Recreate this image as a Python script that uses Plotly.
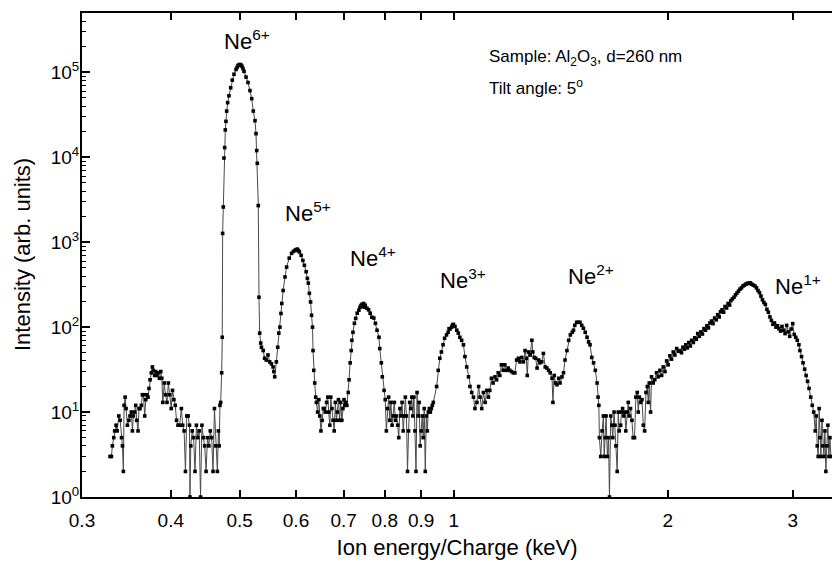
import math
import plotly.graph_objects as go

# ---------------- data ----------------
# low-energy bump and noise floor below Ne6+
low_E = [0.3285, 0.3300, 0.3310, 0.3325, 0.3335, 0.3350, 0.3362, 0.3380, 0.3395, 0.3410,
         0.3420, 0.3430, 0.3438, 0.3450, 0.3460, 0.3475, 0.3492, 0.3504, 0.3520, 0.3532,
         0.3543, 0.3558, 0.3570, 0.3582, 0.3597, 0.3608, 0.3620, 0.3636, 0.3648, 0.3660,
         0.3676, 0.3688, 0.3700, 0.3715, 0.3727, 0.3740, 0.3755, 0.3768, 0.3780, 0.3796,
         0.3809, 0.3821, 0.3838, 0.3855, 0.3872, 0.3885, 0.3898, 0.3915, 0.3933, 0.3951,
         0.3968, 0.3987, 0.4005, 0.4022, 0.4040, 0.4058, 0.4075, 0.4094, 0.4116, 0.4139,
         0.4157, 0.4176, 0.4194, 0.4212, 0.4231, 0.4249, 0.4256, 0.4267, 0.4287, 0.4306,
         0.4326, 0.4346, 0.4365, 0.4385, 0.4404, 0.4424, 0.4444, 0.4464, 0.4484, 0.4504,
         0.4524, 0.4545, 0.4565, 0.4586, 0.4607, 0.4627, 0.4651, 0.4667, 0.4679]
low_I = [3, 3, 4, 5, 6, 7, 6, 9, 8, 5,
         4, 2, 12, 15, 11, 7, 8, 9, 10, 6,
         9, 10, 12, 8, 6, 11, 11, 12, 16, 16,
         9, 14, 16, 15, 19, 24, 29, 34, 31, 27,
         30, 27, 29, 25, 30, 25, 13, 22, 16, 13,
         22, 16, 11, 18, 14, 12, 8, 7, 7, 11,
         7, 6, 2, 9, 9, 7, 1, 4, 6, 5,
         2, 7, 5, 6, 1, 7, 5, 4, 2, 5,
         4, 6, 5, 2, 11, 4, 2, 6, 4]

# Ne6+ peak
ne6_E = [0.4690, 0.4701, 0.4716, 0.4725, 0.4731, 0.4741, 0.4751, 0.4762, 0.4772, 0.4782,
         0.4793, 0.4809, 0.4829, 0.4856, 0.4881, 0.4908, 0.4940, 0.4956, 0.4972, 0.4988,
         0.5004, 0.5020, 0.5037, 0.5053, 0.5070, 0.5103, 0.5136, 0.5169, 0.5198, 0.5225,
         0.5254, 0.5271, 0.5283, 0.5293, 0.5310, 0.5322, 0.5334]
ne6_I = [12, 13, 29, 76, 1270, 2600, 9800, 13000, 21000, 26500,
         35000, 44000, 53000, 66000, 81000, 95000, 108000, 114000, 120000, 122500,
         124000, 122000, 118000, 111000, 103000, 88000, 76000, 61000, 49000, 35000,
         27000, 19000, 12000, 8500, 2700, 225, 85]

# valley + Ne5+ peak
ne5_E = [0.5352, 0.5365, 0.5395, 0.5420, 0.5450, 0.5480, 0.5510, 0.5540, 0.5570, 0.5585,
         0.5600, 0.5630, 0.5655, 0.5675, 0.5695, 0.5715, 0.5730, 0.5755, 0.5790, 0.5820,
         0.5870, 0.5915, 0.5950, 0.5980, 0.6000, 0.6025, 0.6045, 0.6065, 0.6100, 0.6135,
         0.6165, 0.6200, 0.6225, 0.6245, 0.6265, 0.6290, 0.6310, 0.6330, 0.6340, 0.6355,
         0.6375, 0.6395]
ne5_I = [65, 58, 53, 43, 41, 47, 39, 37, 34, 30,
         26, 39, 58, 85, 100, 145, 190, 270, 390, 510,
         650, 740, 780, 800, 815, 830, 800, 770, 700, 610,
         535, 450, 375, 330, 250, 198, 138, 100, 53, 31,
         22, 15]

# noise between Ne5+ and Ne4+
gap54_E = [0.6410, 0.6435, 0.6460, 0.6480, 0.6505, 0.6530, 0.6555, 0.6575, 0.6600, 0.6625,
           0.6650, 0.6670, 0.6695, 0.6715, 0.6740, 0.6765, 0.6790, 0.6815, 0.6840, 0.6860,
           0.6885, 0.6910, 0.6935, 0.6960, 0.6985, 0.7010, 0.7030, 0.7055, 0.7075]
gap54_I = [13, 10, 14, 9, 6, 8, 11, 11, 10, 13,
           15, 10, 7, 15, 11, 8, 6, 13, 8, 10,
           14, 8, 13, 8, 11, 14, 12, 13, 12]

# Ne4+ peak
ne4_E = [0.7107, 0.7125, 0.7150, 0.7175, 0.7190, 0.7215, 0.7250, 0.7280, 0.7315, 0.7355,
         0.7380, 0.7405, 0.7430, 0.7450, 0.7470, 0.7490, 0.7510, 0.7550, 0.7590, 0.7630,
         0.7670, 0.7720, 0.7760, 0.7800, 0.7850, 0.7870, 0.7910, 0.7935, 0.7980]
ne4_I = [17, 24, 38, 53, 70, 87, 111, 127, 146, 158,
         171, 180, 186, 175, 190, 172, 181, 167, 160, 146,
         131, 128, 111, 92, 76, 56, 38, 26, 18]

# noise between Ne4+ and Ne3+
gap43_E = [0.8010, 0.8040, 0.8070, 0.8100, 0.8130, 0.8160, 0.8190, 0.8220, 0.8250, 0.8280,
           0.8310, 0.8340, 0.8370, 0.8400, 0.8430, 0.8460, 0.8490, 0.8520, 0.8550, 0.8580,
           0.8610, 0.8640, 0.8670, 0.8700, 0.8730, 0.8760, 0.8790, 0.8820, 0.8850, 0.8880,
           0.8910, 0.8940, 0.8970, 0.9000, 0.9030, 0.9060, 0.9090, 0.9120, 0.9150, 0.9180,
           0.9210, 0.9240, 0.9270, 0.9300, 0.9330, 0.9360]
gap43_I = [14, 6, 11, 15, 8, 13, 7, 9, 13, 8,
           9, 7, 5, 11, 9, 13, 6, 9, 15, 9,
           2, 6, 13, 11, 15, 9, 15, 6, 2, 17,
           9, 13, 4, 6, 9, 5, 11, 2, 9, 6,
           10, 11, 10, 11, 12, 13]

# Ne3+ peak
ne3_E = [0.9462, 0.9510, 0.9560, 0.9610, 0.9660, 0.9710, 0.9770, 0.9820, 0.9850, 0.9880,
         0.9930, 0.9960, 0.9990, 1.0040, 1.0100, 1.0150, 1.0200, 1.0260, 1.0320, 1.0370,
         1.0430, 1.0490, 1.0540, 1.0600, 1.0660, 1.0712]
ne3_I = [20, 31, 43, 51, 62, 74, 81, 87, 96, 95,
         100, 106, 108, 102, 92, 85, 76, 70, 62, 45,
         34, 26, 20, 17, 15, 11]

# broad structure between Ne3+ and Ne2+, and the Ne2+ peak
ne2_E = [1.078, 1.084, 1.089, 1.095, 1.101, 1.107, 1.113, 1.119, 1.124, 1.130,
         1.136, 1.143, 1.149, 1.155, 1.161, 1.167, 1.174, 1.180, 1.187, 1.193,
         1.199, 1.206, 1.213, 1.219, 1.226, 1.233, 1.239, 1.246, 1.253, 1.260,
         1.265, 1.269, 1.274, 1.281, 1.288, 1.292, 1.298, 1.304, 1.310, 1.317,
         1.322, 1.330, 1.337, 1.345, 1.352, 1.360, 1.367, 1.375, 1.379, 1.385,
         1.390, 1.397, 1.405, 1.411, 1.420, 1.427, 1.434, 1.443, 1.451, 1.459,
         1.468, 1.474, 1.480, 1.489, 1.497, 1.505, 1.514, 1.522, 1.531, 1.540,
         1.548, 1.555, 1.564, 1.573, 1.582, 1.591, 1.596, 1.600]
ne2_I = [13, 20, 15, 11, 17, 13, 18, 15, 18, 25,
         22, 26, 24, 29, 27, 36, 31, 36, 31, 33,
         31, 30, 29, 29, 41, 43, 39, 44, 39, 53,
         43, 27, 51, 47, 70, 51, 44, 43, 33, 41,
         38, 39, 49, 34, 33, 31, 29, 25, 13, 27,
         22, 21, 25, 22, 26, 29, 41, 53, 70, 81,
         87, 92, 105, 114, 114, 114, 105, 97, 87, 76,
         67, 62, 44, 38, 31, 22, 15, 12]

# noise region around 1.6-2.0 keV
gap21_E = [1.603, 1.610, 1.617, 1.624, 1.628, 1.633, 1.638, 1.645, 1.651, 1.656,
           1.663, 1.669, 1.674, 1.681, 1.686, 1.691, 1.698, 1.704, 1.709, 1.717,
           1.722, 1.728, 1.735, 1.741, 1.746, 1.754, 1.760, 1.765, 1.773, 1.781,
           1.788, 1.796, 1.804, 1.812, 1.818, 1.824, 1.832, 1.840, 1.848, 1.856,
           1.864, 1.872, 1.878, 1.884, 1.892, 1.898, 1.908, 1.918, 1.929, 1.939]
gap21_I = [5, 3, 6, 9, 3, 5, 9, 3, 5, 1,
           9, 7, 5, 10, 7, 4, 2, 10, 6, 7,
           10, 11, 9, 10, 6, 10, 13, 9, 11, 8,
           5, 5, 15, 17, 10, 15, 13, 14, 7, 6,
           17, 20, 13, 22, 10, 26, 22, 24, 29, 26]

# broad Ne1+ peak
ne1_E = [1.950, 1.961, 1.971, 1.982, 1.993, 2.003, 2.014, 2.025, 2.036, 2.047,
         2.059, 2.070, 2.081, 2.091, 2.101, 2.111, 2.121, 2.131, 2.141, 2.152,
         2.162, 2.173, 2.183, 2.194, 2.204, 2.215, 2.227, 2.238, 2.249, 2.260,
         2.271, 2.282, 2.293, 2.305, 2.316, 2.328, 2.340, 2.351, 2.363, 2.373,
         2.385, 2.397, 2.408, 2.420, 2.432, 2.444, 2.454, 2.466, 2.479, 2.491,
         2.503, 2.515, 2.527, 2.540, 2.552, 2.564, 2.577, 2.590, 2.602, 2.614,
         2.627, 2.640, 2.653, 2.666, 2.679, 2.692, 2.705, 2.718, 2.731, 2.744,
         2.758, 2.771, 2.785, 2.798, 2.812, 2.826, 2.840, 2.854, 2.867, 2.882,
         2.896, 2.911, 2.925, 2.940, 2.954, 2.969, 2.983, 2.998, 3.013, 3.028,
         3.043, 3.059, 3.069, 3.085, 3.100, 3.116, 3.131, 3.146, 3.161, 3.178,
         3.194, 3.209, 3.225, 3.235, 3.246, 3.256, 3.266, 3.274, 3.285, 3.296,
         3.306, 3.317, 3.328, 3.338, 3.349, 3.360, 3.371, 3.382, 3.393]
ne1_I = [31, 27, 34, 30, 40, 36, 46, 42, 51, 47,
         56, 52, 53, 50, 58, 55, 62, 57, 66, 60,
         70, 66, 75, 72, 84, 78, 88, 83, 96, 92,
         104, 98, 112, 118, 110, 128, 122, 140, 132, 152,
         160, 150, 175, 168, 190, 182, 205, 215, 225, 240,
         252, 265, 280, 290, 305, 312, 322, 330, 326, 332,
         320, 312, 305, 290, 270, 255, 232, 210, 195, 185,
         162, 150, 132, 120, 108, 112, 100, 104, 96, 90,
         102, 92, 84, 105, 88, 78, 95, 110, 82, 76,
         70, 62, 53, 45, 38, 32, 27, 23, 19, 15,
         12, 10, 6, 9, 4, 3, 11, 5, 3, 8,
         4, 3, 6, 2, 4, 7, 3, 5, 3]

energy = low_E + ne6_E + ne5_E + gap54_E + ne4_E + gap43_E + ne3_E + ne2_E + gap21_E + ne1_E
intensity = low_I + ne6_I + ne5_I + gap54_I + ne4_I + gap43_I + ne3_I + ne2_I + gap21_I + ne1_I

x_tick_vals = [0.3, 0.4, 0.5, 0.6, 0.7, 0.8, 0.9, 1, 2, 3]
x_tick_text = ["0.3", "0.4", "0.5", "0.6", "0.7", "0.8", "0.9", "1", "2", "3"]
y_tick_vals = [1, 10, 100, 1000, 10000, 100000]
y_tick_text = ["10<sup>0</sup>", "10<sup>1</sup>", "10<sup>2</sup>",
               "10<sup>3</sup>", "10<sup>4</sup>", "10<sup>5</sup>"]
y_minor_vals = [m * 10 ** d for d in range(0, 6) for m in range(2, 10)]

peak_labels = ["Ne<sup>6+</sup>", "Ne<sup>5+</sup>", "Ne<sup>4+</sup>",
               "Ne<sup>3+</sup>", "Ne<sup>2+</sup>", "Ne<sup>1+</sup>"]
peak_label_E = [0.512, 0.624, 0.770, 1.030, 1.560, 3.049]
peak_label_I = [2.4e5, 2.25e3, 6.7e2, 3.7e2, 4.1e2, 3.1e2]

# ---------------- figure ----------------
FONT = "Liberation Sans, Arial, Helvetica, sans-serif"

fig = go.Figure()
fig.add_trace(go.Scatter(
    x=energy, y=intensity, mode="lines+markers",
    line=dict(color="#4a4a4a", width=1),
    marker=dict(symbol="square", size=3.6, color="black", line=dict(width=0)),
    showlegend=False, hoverinfo="x+y",
))

for txt, ex, iy in zip(peak_labels, peak_label_E, peak_label_I):
    fig.add_annotation(x=math.log10(ex), y=math.log10(iy), xref="x", yref="y",
                       text=txt, showarrow=False,
                       font=dict(family=FONT, size=22, color="black"))

fig.add_annotation(x=(487 - 82) / 750, y=(497 - 58) / 484, xref="paper", yref="paper",
                   xanchor="left", yanchor="middle", showarrow=False,
                   text="Sample: Al<sub>2</sub>O<sub>3</sub>, d=260 nm",
                   font=dict(family=FONT, size=17, color="black"))
fig.add_annotation(x=(487 - 82) / 750, y=(497 - 87) / 484, xref="paper", yref="paper",
                   xanchor="left", yanchor="middle", showarrow=False,
                   text="Tilt angle: 5<sup>o</sup>",
                   font=dict(family=FONT, size=17, color="black"))

# y-axis title placed as a rotated text left of the tick labels
fig.add_annotation(x=(22 - 82) / 750, y=0.5, xref="paper", yref="paper",
                   xanchor="center", yanchor="middle", showarrow=False, textangle=-90,
                   text="Intensity (arb. units)",
                   font=dict(family=FONT, size=22, color="black"))

fig.update_layout(
    width=832, height=562,
    margin=dict(l=82, r=0, t=13, b=65),
    paper_bgcolor="white", plot_bgcolor="white",
    font=dict(family=FONT, size=19, color="black"),
)
fig.update_xaxes(
    type="log", range=[math.log10(0.3), math.log10(3.405)],
    tickvals=x_tick_vals, ticktext=x_tick_text,
    ticks="inside", ticklen=7, tickwidth=1.5, tickcolor="black",
    ticklabelstandoff=5,
    showline=True, linewidth=2, linecolor="black", mirror="ticks",
    showgrid=False, zeroline=False,
    tickfont=dict(family=FONT, size=19),
    title=dict(text="Ion energy/Charge (keV)", font=dict(family=FONT, size=22), standoff=10),
)
fig.update_yaxes(
    type="log", range=[0, math.log10(5e5)],
    tickvals=y_tick_vals, ticktext=y_tick_text,
    ticks="inside", ticklen=8, tickwidth=1.5, tickcolor="black",
    ticklabelstandoff=-3,
    minor=dict(tickvals=y_minor_vals, ticks="inside", ticklen=4, tickwidth=1, tickcolor="black"),
    showline=True, linewidth=2, linecolor="black",
    showgrid=False, zeroline=False,
    tickfont=dict(family=FONT, size=19),
)

fig.write_html("out.html", config={"displayModeBar": False},
               post_script="document.body.style.margin='0px';")
